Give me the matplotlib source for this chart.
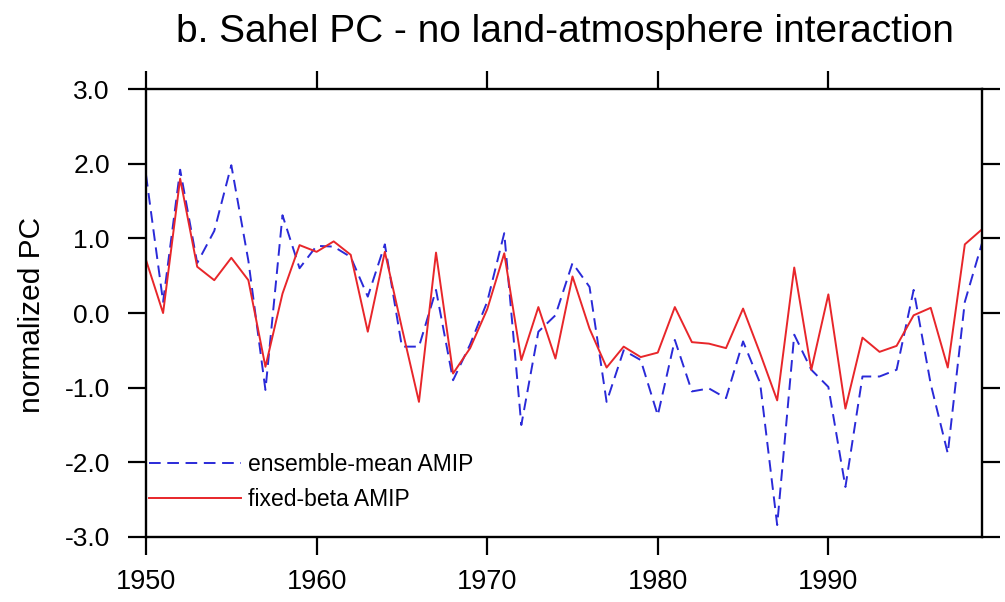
# Sahel PC time series - no land-atmosphere interaction

# importing the libraries
import numpy as np
import matplotlib
matplotlib.use('Agg')
import matplotlib.pyplot as plt

plt.rcParams['font.family'] = ['Liberation Sans', 'DejaVu Sans']

# the data
years = np.arange(1950, 2000)
ensemble_mean = [1.85, 0.15, 1.92, 0.67, 1.10, 1.98, 0.70, -1.03, 1.31, 0.60,
                 0.90, 0.89, 0.75, 0.22, 0.92, -0.45, -0.45, 0.31, -0.90, -0.42,
                 0.15, 1.07, -1.50, -0.25, -0.03, 0.67, 0.35, -1.19, -0.50, -0.63,
                 -1.37, -0.36, -1.05, -1.01, -1.14, -0.38, -0.94, -2.84, -0.29, -0.76,
                 -0.99, -2.33, -0.85, -0.85, -0.76, 0.31, -0.95, -1.88, 0.15, 0.93]
fixed_beta = [0.71, 0.00, 1.80, 0.62, 0.44, 0.74, 0.44, -0.72, 0.26, 0.91,
              0.82, 0.96, 0.78, -0.25, 0.82, -0.20, -1.19, 0.81, -0.81, -0.47,
              0.05, 0.80, -0.63, 0.08, -0.61, 0.49, -0.21, -0.73, -0.45, -0.59,
              -0.53, 0.08, -0.39, -0.41, -0.47, 0.06, -0.54, -1.17, 0.61, -0.76,
              0.25, -1.28, -0.33, -0.52, -0.44, -0.03, 0.07, -0.73, 0.92, 1.12]
series_labels = ['ensemble-mean AMIP', 'fixed-beta AMIP']
x_ticks = [1950, 1960, 1970, 1980, 1990]
y_ticks = [-3.0, -2.0, -1.0, 0.0, 1.0, 2.0, 3.0]

# the figure
fig = plt.figure(figsize=(10.05, 6.02), dpi=100)
ax = fig.add_axes([0.1453, 0.108, 0.8317, 0.744])

ax.plot(years, ensemble_mean, color='#2a2ad8', lw=1.4, dashes=(6.0, 3.4),
        label=series_labels[0])
ax.plot(years, fixed_beta, color='#e8262a', lw=1.4, label=series_labels[1])

ax.set_xlim(1950, 1999)
ax.set_ylim(-3.0, 3.0)
ax.set_xticks(x_ticks)
ax.set_yticks(y_ticks)
ax.set_yticklabels(['%.1f' % v for v in y_ticks])

for s in ax.spines.values():
    s.set_linewidth(1.7)
ax.tick_params(axis='both', which='major', direction='out', length=13, width=1.6,
               top=True, right=True)
ax.tick_params(axis='x', labelsize=19.5, pad=10)
ax.tick_params(axis='y', labelsize=19, pad=13)

# title and y label
fig.text(0.562, 0.930, 'b. Sahel PC - no land-atmosphere interaction',
         ha='center', va='baseline', fontsize=28)
fig.text(0.032, 0.477, 'normalized PC', rotation=90, ha='center', va='center',
         fontsize=21.5)

ax.legend(loc='upper left', bbox_to_anchor=(0.004, 0.188), frameon=False,
          fontsize=16.5, handlelength=4.0, handletextpad=0.3, labelspacing=0.55,
          borderpad=0, borderaxespad=0)

plt.savefig('out.png', dpi=100)
